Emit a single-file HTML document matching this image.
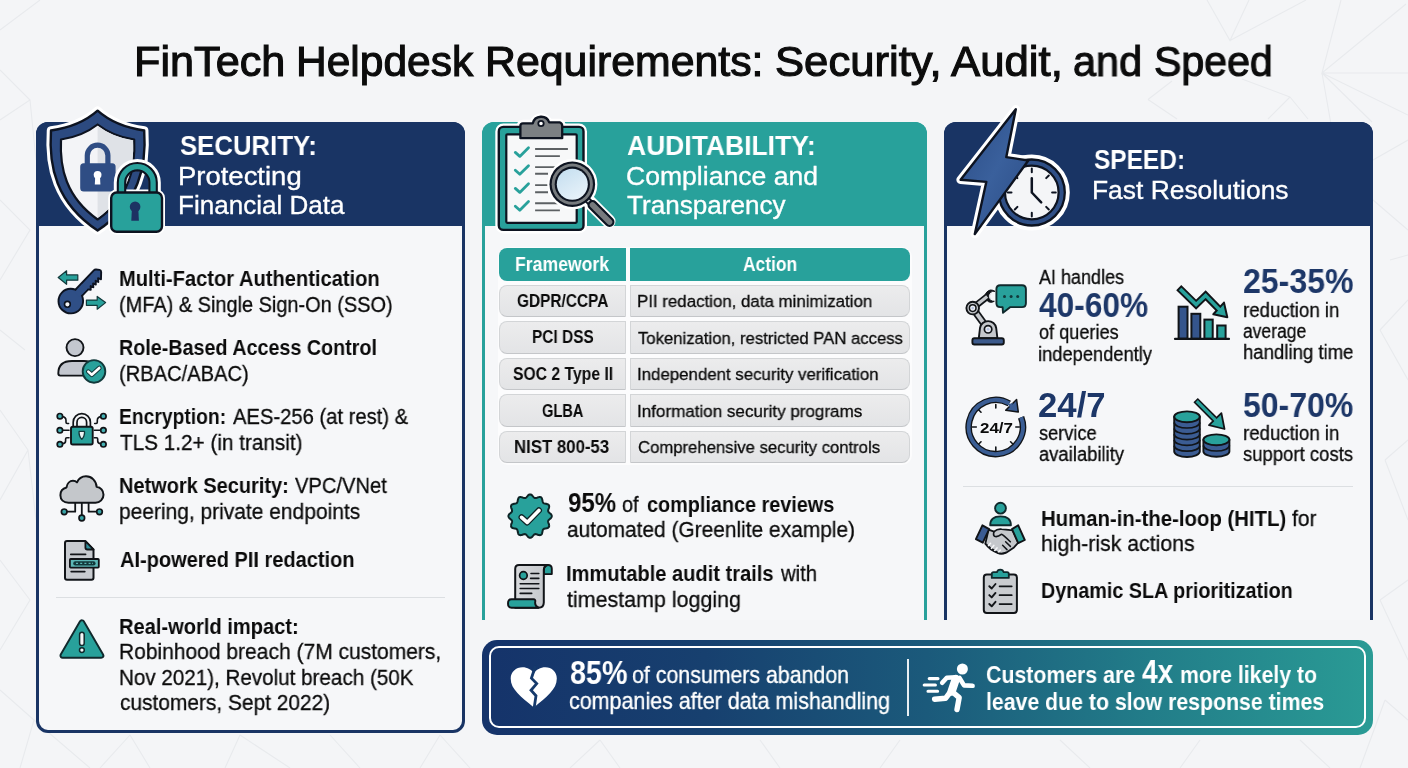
<!DOCTYPE html>
<html><head><meta charset="utf-8"><title>FinTech Helpdesk Requirements</title>
<style>
html,body{margin:0;padding:0}
body{width:1408px;height:768px;overflow:hidden;position:relative;background:#f4f5f7;font-family:"Liberation Sans",sans-serif;color:#0b0b0b}
.t{position:absolute;white-space:pre;line-height:1;transform-origin:0 0;will-change:transform}
.abs{position:absolute}
.panel{position:absolute;box-sizing:border-box;background:#f6f7f9}
.hdr{position:absolute;box-sizing:border-box}
.cell{position:absolute;box-sizing:border-box;border-radius:8px}
.th{background:#28a19b}
.td{background:linear-gradient(#ececed,#e3e4e6);border:1px solid #d3d5d7;border-bottom-color:#c4c6c9}
svg{position:absolute;overflow:visible}
</style></head><body>
<!-- background pattern -->
<svg class="abs" style="left:0;top:0" width="1408" height="768" viewBox="0 0 1408 768" fill="none" stroke="#e8eaed" stroke-width="1.100">
<path d="M1207 0L1230 40.500L1249 0M1230 40.500L1306 0M1341 0L1322 73L1406 4M1322 73H1408M1322 73L1408 115M1322 73L1332 130M1322 73L1372 122M1148 99.500L1172 81M1148 99.500L1177 119M1290 97L1242 79M1290 97L1268 119M1290 97L1308 119"/>
<path d="M1373 160L1408 140M1373 200L1408 230M1390 260L1408 255M1380 330L1408 300M1380 330L1408 380M1385 460L1408 440M1385 460L1408 520M1380 600L1408 580M1380 600L1408 660M1385 700L1408 720M1385 700L1360 768"/>
<path d="M0 410L28 450L0 500M28 450L36 520M0 560L30 600L0 650M0 690L34 720L20 768M34 720L90 768M130 735L150 768M130 735L100 768M240 735L225 768M240 735L290 768M330 735L360 768M440 735L420 768M440 735L470 768M600 740L620 768M600 740L570 768M760 740L780 768M900 740L880 768M1060 740L1090 768M1200 740L1180 768M1300 740L1330 768"/>
<path d="M0 30L40 0M0 120L30 100L0 70M30 100L36 160M0 200L30 230L0 280M0 330L25 350"/>
</svg>

<!-- SECURITY panel -->
<div class="panel" style="left:36px;top:121.5px;width:429px;height:611.5px;border:3px solid #193464;border-radius:12px"></div>
<div class="hdr" style="left:36px;top:121.5px;width:429px;height:104.5px;background:#193464;border-radius:12px 12px 0 0"></div>
<div class="abs" style="left:56px;top:597px;width:389px;height:1.300px;background:#dcdfe2"></div>

<!-- AUDIT panel -->
<div class="panel" style="left:482px;top:121.5px;width:445px;height:498px;border:3px solid #28a19b;border-bottom:none;border-radius:12px 12px 0 0"></div>
<div class="hdr" style="left:482px;top:121.5px;width:445px;height:104.5px;background:#28a19b;border-radius:12px 12px 0 0"></div>
<div class="abs" style="left:497.5px;top:246.500px;width:414px;height:218px;border-radius:10px;background:#fcfcfd"></div>
<div class="cell th" style="left:499.300px;top:248px;width:126.400px;height:32.700px;border-radius:8px 0 0 8px"></div>
<div class="cell th" style="left:629.700px;top:248px;width:280.200px;height:32.700px;border-radius:0 8px 8px 0"></div>
<div class="cell td" style="left:499.300px;top:284.5px;width:126.400px;height:32.700px;border-radius:8px 0 0 8px"></div>
<div class="cell td" style="left:629.700px;top:284.5px;width:280.200px;height:32.700px;border-radius:0 8px 8px 0"></div>
<div class="cell td" style="left:499.300px;top:321px;width:126.400px;height:32.700px;border-radius:8px 0 0 8px"></div>
<div class="cell td" style="left:629.700px;top:321px;width:280.200px;height:32.700px;border-radius:0 8px 8px 0"></div>
<div class="cell td" style="left:499.300px;top:357.5px;width:126.400px;height:32.700px;border-radius:8px 0 0 8px"></div>
<div class="cell td" style="left:629.700px;top:357.5px;width:280.200px;height:32.700px;border-radius:0 8px 8px 0"></div>
<div class="cell td" style="left:499.300px;top:394px;width:126.400px;height:32.700px;border-radius:8px 0 0 8px"></div>
<div class="cell td" style="left:629.700px;top:394px;width:280.200px;height:32.700px;border-radius:0 8px 8px 0"></div>
<div class="cell td" style="left:499.300px;top:430.5px;width:126.400px;height:32.700px;border-radius:8px 0 0 8px"></div>
<div class="cell td" style="left:629.700px;top:430.5px;width:280.200px;height:32.700px;border-radius:0 8px 8px 0"></div>

<!-- SPEED panel -->
<div class="panel" style="left:944px;top:121.5px;width:429px;height:498px;border:3px solid #193464;border-bottom:none;border-radius:12px 12px 0 0"></div>
<div class="hdr" style="left:944px;top:121.5px;width:429px;height:104.5px;background:#193464;border-radius:12px 12px 0 0"></div>
<div class="abs" style="left:963px;top:485.5px;width:390px;height:1.300px;background:#dcdfe2"></div>

<!-- BANNER -->
<div class="abs" style="left:482px;top:639.5px;width:891px;height:95px;border-radius:15px;background:linear-gradient(90deg,#15336a 0%,#17406f 25%,#1b5a7b 50%,#227d89 75%,#2a9b95 100%)"></div>
<div class="abs" style="left:489px;top:646px;width:877px;height:82px;box-sizing:border-box;border:2.5px solid #ffffff;border-radius:10px"></div>
<div class="abs" style="left:906.5px;top:659px;width:2px;height:57px;background:#e8eef2"></div>

<svg class="abs" style="left:0;top:0" width="1408" height="768" viewBox="0 0 1408 768">
<g id="shield" stroke-linejoin="round" stroke-linecap="round">
<!-- white halo -->
<path d="M97.6 110.7C86 121 69 128 51 130.5C48.5 166 56 203 97.6 230.5C139.2 203 146.700 166 144.2 130.5C126.2 128 109.2 121 97.6 110.700Z" fill="#fff" stroke="#fff" stroke-width="8.5"/>
<!-- outer shield -->
<path d="M97.6 110.7C86 121 69 128 51 130.5C48.5 166 56 203 97.6 230.5C139.2 203 146.700 166 144.2 130.5C126.2 128 109.2 121 97.6 110.700Z" fill="#2c4a80" stroke="#0d1320" stroke-width="2.4"/>
<!-- inner shield -->
<path d="M97.6 124.5C88 132 75 137.500 61 139.500C59.5 168 66 197 97.6 219.500C129.200 197 135.700 168 134.200 139.500C120.200 137.500 107.200 132 97.6 124.500Z" fill="#f3f4f7" stroke="#0d1320" stroke-width="2.2"/>
<path d="M97.6 125.8C107 133 119.6 138.3 133 140.400C134.400 168 128.200 196 97.6 218Z" fill="#dfe2e7"/>
<!-- small blue lock -->
<path d="M87.3 166V155.500A10.300 10.300 0 0 1 107.900 155.500V166" fill="none" stroke="#2f4d84" stroke-width="5.200"/>
<rect x="80.200" y="163.300" width="35.400" height="28.300" rx="3.500" fill="#2f4d84"/>
<circle cx="97.6" cy="174.800" r="3.900" fill="#fff"/>
<path d="M95.300 175H99.900L100.400 184.500H94.800Z" fill="#fff"/>
<!-- green lock -->
<g>
<path d="M113.8 198V182.500A23.5 23.5 0 0 1 160.800 182.500V198ZM125.700 198V182.500A11.600 11.600 0 0 1 148.900 182.500V198Z" fill="#fff" fill-rule="evenodd"/>
<rect x="111.200" y="192.500" width="50.800" height="39.300" rx="5.500" fill="#fff" stroke="#fff" stroke-width="6"/>
<path d="M121.500 196V182.500A15.800 15.800 0 0 1 153.100 182.500V196" fill="none" stroke="#0d1320" stroke-width="9.500"/>
<path d="M121.500 196V182.500A15.800 15.800 0 0 1 153.100 182.500V196" fill="none" stroke="#28a19b" stroke-width="5.300"/>
<rect x="111.200" y="192.500" width="50.800" height="39.300" rx="5.500" fill="#28a19b" stroke="#0d1320" stroke-width="2.400"/>
<circle cx="135.100" cy="206.700" r="5.300" fill="#1d3263"/>
<path d="M132 207H138.200L138.900 220.800H131.300Z" fill="#1d3263"/>
</g>
</g>
<g id="clipboard" stroke-linejoin="round" stroke-linecap="round">
<!-- halo -->
<rect x="498.800" y="126.900" width="84.700" height="103" rx="4.500" fill="#fff" stroke="#fff" stroke-width="7"/>
<path d="M520.400 138.200V125.800Q520.400 123.300 523 123.300H532.800A8.600 8.600 0 0 1 549.200 122.300H559.600Q562.200 123.300 562.200 125.800V138.200Z" fill="#fff" stroke="#fff" stroke-width="7"/>
<!-- board -->
<rect x="498.800" y="126.900" width="84.700" height="103" rx="4.500" fill="#28a19b" stroke="#0d1320" stroke-width="2.400"/>
<rect x="506.300" y="134.300" width="70.400" height="88.500" rx="1" fill="#f7f8f9" stroke="#0d1320" stroke-width="2.200"/>
<!-- clip -->
<path d="M520.400 138.200V125.800Q520.400 123.300 523 123.300H532.800A8.600 8.600 0 0 1 549.200 122.300H559.600Q562.200 123.300 562.200 125.800V138.200Z" fill="#7c8083" stroke="#0d1320" stroke-width="2.300"/>
<circle cx="541" cy="123.500" r="2.700" fill="#fff" stroke="#0d1320" stroke-width="1.800"/>
<!-- checks -->
<g fill="none" stroke="#28a19b" stroke-width="2.800">
<path d="M515.300 152.400L519.800 156.400L528.500 147.800"/>
<path d="M515.300 170.300L519.800 174.300L528.500 165.700"/>
<path d="M515.300 188.400L519.800 192.400L528.500 183.800"/>
<path d="M515.300 206.200L519.800 210.200L528.500 201.600"/>
</g>
<g fill="none" stroke="#5c6063" stroke-width="1.900" stroke-linecap="butt">
<path d="M535.100 149H567.900M535.100 156.100H559.900"/>
<path d="M535.100 167.100H555M535.100 173.800H548"/>
<path d="M535.100 185.100H548M535.100 192.200H548"/>
<path d="M535.100 203.300H560M535.100 210.400H559.900"/>
</g>
<!-- magnifier halo -->
<circle cx="572.300" cy="184.200" r="23" fill="#fff" stroke="#fff" stroke-width="4.200"/>
<path d="M589 201.500L608.800 221.300" fill="none" stroke="#fff" stroke-width="13.500"/>
<!-- handle -->
<path d="M586 198.500L592 204.500" fill="none" stroke="#0d1320" stroke-width="6.500" stroke-linecap="butt"/>
<path d="M586 198.500L592 204.500" fill="none" stroke="#c9ccce" stroke-width="2.800" stroke-linecap="butt"/>
<path d="M592.500 205L609.500 222" fill="none" stroke="#0d1320" stroke-width="10"/>
<path d="M592.500 205L609.500 222" fill="none" stroke="#777b7e" stroke-width="5.600"/>
<!-- lens -->
<circle cx="572.300" cy="184.200" r="22.800" fill="#0d1320"/>
<circle cx="572.300" cy="184.200" r="20.600" fill="#777b7e"/>
<circle cx="572.300" cy="184.200" r="17.600" fill="#0d1320"/>
<circle cx="572.300" cy="184.200" r="15.500" fill="url(#lensg)"/>
<defs><linearGradient id="lensg" x1="0.200" y1="0" x2="0.800" y2="1"><stop offset="0" stop-color="#c6dff0"/><stop offset="1" stop-color="#e9f3fa"/></linearGradient></defs>
</g>
<g id="bolt" stroke-linejoin="round" stroke-linecap="round">
<defs><linearGradient id="boltg" x1="0" y1="0" x2="1" y2="1"><stop offset="0" stop-color="#2b4c85"/><stop offset="0.5" stop-color="#3a609c"/><stop offset="1" stop-color="#2b4c85"/></linearGradient></defs>
<circle cx="1031.8" cy="192.5" r="34" fill="#fff" stroke="#fff" stroke-width="8"/>
<path d="M1015.8 109.300L1006.300 157.100L1028.300 160.500L974.800 234.100L986.300 181.900L960.600 179.800Z" fill="#fff" stroke="#fff" stroke-width="8.500"/>
<circle cx="1031.8" cy="192.5" r="33" fill="#2f4f86" stroke="#0d1320" stroke-width="2.300"/>
<circle cx="1031.8" cy="192.5" r="26.800" fill="#f4f5f7" stroke="#0d1320" stroke-width="2.200"/>
<path d="M1031.8 172.2L1031.8 168.5M1046.2 178.1L1048.8 175.5M1052.1 192.5L1055.8 192.5M1046.2 206.9L1048.8 209.5M1031.8 212.8L1031.8 216.5M1017.4 206.9L1014.8 209.5M1011.5 192.5L1007.8 192.5M1017.4 178.1L1014.8 175.5" fill="none" stroke="#0d1320" stroke-width="2"/>
<path d="M1031.8 192.5V178.300M1031.8 192.5L1041.200 202.300" fill="none" stroke="#0d1320" stroke-width="2.500"/>
<path d="M1015.8 109.300L1006.300 157.100L1028.300 160.500L974.800 234.100L986.300 181.900L960.600 179.800Z" fill="url(#boltg)" stroke="#0d1320" stroke-width="2.400"/>
</g>
<g id="key" stroke-linejoin="round" stroke-linecap="round">
<g transform="translate(70.800 301.100) rotate(-46.500)">
<path d="M9 -4.500L38.200 -4.500Q39.600 -4.500 40.400 -3.400L42.400 -0.600Q43.300 0.800 42 2L36.600 6.900L35.400 4L32.800 6.800L31.800 4L29.200 6.800L28.200 4L25.600 6.800L24.600 4L22 6.600L20.500 4.500L9 4.500Z" fill="#2f4f86" stroke="#0d1320" stroke-width="1.900"/>
<circle cx="0" cy="0" r="12.300" fill="#2f4f86" stroke="#0d1320" stroke-width="1.900"/>
<path d="M9 -3.500L20 -3.500L20 3.500L9 3.500Z" fill="#2f4f86"/>
</g>
<circle cx="67.400" cy="304.300" r="2.900" fill="#f4f5f7" stroke="#0d1320" stroke-width="1.600"/>
<path d="M58.200 277.500L66.600 270.800V274.900H77.800V280.200H66.600V284.300Z" fill="#28a19b" stroke="#12393b" stroke-width="1.200"/>
<path d="M105.600 302.600L97.200 296.400V300.100H86.400V305.300H97.200V309.200Z" fill="#28a19b" stroke="#12393b" stroke-width="1.200"/>
</g>
<g id="user" stroke-linejoin="round" stroke-linecap="round">
<circle cx="75" cy="347.600" r="8.500" fill="#c3c7cf" stroke="#111418" stroke-width="1.900"/>
<path d="M58.300 373.500Q58.300 361 72 361H84Q96 361 96 373.500Q96 375.600 94 375.600H60.300Q58.300 375.600 58.300 373.500Z" fill="#c3c7cf" stroke="#111418" stroke-width="1.900"/>
<circle cx="94" cy="371.400" r="11.300" fill="#28a19b" stroke="#12393b" stroke-width="1.900"/>
<path d="M88.300 371.600L91.800 374.800L99.300 368" fill="none" stroke="#12393b" stroke-width="4.600"/>
<path d="M88.300 371.600L91.800 374.800L99.300 368" fill="none" stroke="#ffffff" stroke-width="2.600"/>
</g>
<g id="enc" stroke-linejoin="round" stroke-linecap="round">
<path d="M73.200 428V422.200A8.600 8.600 0 0 1 90.400 422.200V428H86.600V422.200A4.800 4.800 0 0 0 77 422.200V428Z" fill="#f4f5f7" stroke="#111418" stroke-width="1.700"/>
<rect x="71" y="426.700" width="21.700" height="17.800" rx="1.800" fill="#28a19b" stroke="#111418" stroke-width="1.900"/>
<path d="M79.100 431.300H84.500Q85 436 81.800 439.400Q78.600 436 79.100 431.300Z" fill="#eef3f4" stroke="#12393b" stroke-width="1.300"/>
<g fill="none" stroke="#111418" stroke-width="1.600">
<path d="M62.400 416.600Q66 417 66 420.500V422.300Q66 423.500 67.200 423.500H68.600"/>
<path d="M62.400 430.300H69"/>
<path d="M62.400 443.800Q65.600 443.400 65.600 441V439Q65.600 437.700 66.800 437.700H69"/>
<path d="M100.900 416.600Q97.300 417 97.300 420.500V422.300Q97.300 423.500 96.100 423.500H94.700"/>
<path d="M100.900 430.300H94.300"/>
<path d="M100.900 443.800Q97.700 443.400 97.700 441V439Q97.700 437.700 96.500 437.700H94.300"/>
</g>
<g fill="#44b1b4" stroke="#111418" stroke-width="1.700">
<circle cx="59.900" cy="416.200" r="2.700"/><circle cx="59.900" cy="430.300" r="2.700"/><circle cx="59.900" cy="444.300" r="2.700"/>
<circle cx="103.400" cy="416.200" r="2.700"/><circle cx="103.400" cy="430.300" r="2.700"/><circle cx="103.400" cy="444.300" r="2.700"/>
</g>
</g>
<g id="cloud" stroke-linejoin="round" stroke-linecap="round">
<g fill="none" stroke="#111418" stroke-width="1.800">
<path d="M75.200 502V511.700H66.500M81.800 502V515.500M88.600 502V511.700H97"/>
</g>
<path d="M68.500 502.700C63.500 502.700 60.400 499.500 60.400 495.300C60.400 491.300 63 488.300 66.500 487.500C67 483.500 69.800 480.800 73 480.800C74.600 480.800 76 481.400 77 482.400C78.600 478.700 82 476.300 86 476.300C91.700 476.300 96.300 480.900 96.600 486.800C100.600 487.300 103.500 490.600 103.500 494.700C103.500 499.200 100 502.700 95.500 502.700Z" fill="#c4c7cb" stroke="#111418" stroke-width="2"/>
<g fill="#38a3a6" stroke="#111418" stroke-width="1.700">
<circle cx="64.200" cy="511.800" r="2.800"/><circle cx="81.800" cy="518" r="2.800"/><circle cx="99.500" cy="511.800" r="2.800"/>
</g>
</g>
<g id="doc" stroke-linejoin="round" stroke-linecap="round">
<path d="M67 541.100H85.400L93.500 549.500V577.700Q93.500 579.700 91.500 579.700H67Q65 579.700 65 577.700V543.100Q65 541.100 67 541.100Z" fill="#c8cbd0" stroke="#111418" stroke-width="2"/>
<path d="M85.400 541.100V547.500Q85.400 549.500 87.400 549.500H93.500Z" fill="#2f8d99" stroke="#111418" stroke-width="1.800"/>
<path d="M70.800 554.300H85.600M71.200 571.600H84.800" fill="none" stroke="#111418" stroke-width="1.700"/>
<rect x="69.900" y="559" width="28.900" height="8.600" rx="0.800" fill="#5cb7b6" stroke="#111418" stroke-width="1.800"/>
<rect x="73.200" y="561.300" width="22.400" height="4.200" rx="2.100" fill="#12393b"/>
<path d="M76 563.400H78M80.200 563.400H82.200M84.400 563.400H86.400M88.600 563.400H90.600M92.200 563.400H93" fill="none" stroke="#5cb7b6" stroke-width="1.200" stroke-linecap="butt"/>
</g>
<g id="warn" stroke-linejoin="round" stroke-linecap="round">
<path d="M81.900 622.400L101.200 655.600H62.600Z" fill="#28a19b" stroke="#10292c" stroke-width="6.200"/>
<path d="M81.900 622.400L101.200 655.600H62.600Z" fill="#28a19b" stroke="#28a19b" stroke-width="2.400"/>
<rect x="79.600" y="632.300" width="4.600" height="13.200" rx="2.300" fill="#f6f8f9" stroke="#10292c" stroke-width="1.500"/>
<circle cx="81.900" cy="650.100" r="2.400" fill="#f6f8f9" stroke="#10292c" stroke-width="1.500"/>
</g>
<g id="badge" stroke-linejoin="round" stroke-linecap="round">
<path d="M530.1 494.4L530.7 494.5L531.2 494.7L531.8 495.1L532.3 495.5L532.7 496.1L533.2 496.6L533.6 497.1L534.0 497.5L534.5 497.8L534.9 498.0L535.4 498.1L536.0 498.0L536.5 497.9L537.2 497.7L537.8 497.4L538.5 497.2L539.2 497.1L539.8 497.0L540.4 497.1L541.0 497.3L541.4 497.7L541.8 498.1L542.0 498.7L542.2 499.4L542.4 500.1L542.5 500.8L542.6 501.4L542.8 502.0L543.0 502.5L543.3 502.9L543.7 503.2L544.2 503.4L544.8 503.6L545.4 503.7L546.1 503.8L546.8 504.0L547.5 504.2L548.1 504.4L548.5 504.8L548.9 505.2L549.1 505.8L549.2 506.4L549.1 507.0L549.0 507.7L548.8 508.4L548.5 509.0L548.3 509.7L548.2 510.2L548.1 510.8L548.2 511.3L548.4 511.7L548.7 512.2L549.1 512.6L549.6 513.0L550.1 513.5L550.7 513.9L551.1 514.4L551.5 515.0L551.7 515.5L551.8 516.1L551.7 516.7L551.5 517.2L551.1 517.8L550.7 518.3L550.1 518.7L549.6 519.2L549.1 519.6L548.7 520.0L548.4 520.5L548.2 520.9L548.1 521.4L548.2 522.0L548.3 522.5L548.5 523.2L548.8 523.8L549.0 524.5L549.1 525.2L549.2 525.8L549.1 526.4L548.9 527.0L548.5 527.4L548.1 527.8L547.5 528.0L546.8 528.2L546.1 528.4L545.4 528.5L544.8 528.6L544.2 528.8L543.7 529.0L543.3 529.3L543.0 529.7L542.8 530.2L542.6 530.8L542.5 531.4L542.4 532.1L542.2 532.8L542.0 533.5L541.8 534.1L541.4 534.5L541.0 534.9L540.4 535.1L539.8 535.2L539.2 535.1L538.5 535.0L537.8 534.8L537.2 534.5L536.5 534.3L536.0 534.2L535.4 534.1L534.9 534.2L534.5 534.4L534.0 534.7L533.6 535.1L533.2 535.6L532.7 536.1L532.3 536.7L531.8 537.1L531.2 537.5L530.7 537.7L530.1 537.8L529.5 537.7L529.0 537.5L528.4 537.1L527.9 536.7L527.5 536.1L527.0 535.6L526.6 535.1L526.2 534.7L525.7 534.4L525.3 534.2L524.8 534.1L524.2 534.2L523.7 534.3L523.0 534.5L522.4 534.8L521.7 535.0L521.0 535.1L520.4 535.2L519.8 535.1L519.2 534.9L518.8 534.5L518.4 534.1L518.2 533.5L518.0 532.8L517.8 532.1L517.7 531.4L517.6 530.8L517.4 530.2L517.2 529.7L516.9 529.3L516.5 529.0L516.0 528.8L515.4 528.6L514.8 528.5L514.1 528.4L513.4 528.2L512.7 528.0L512.1 527.8L511.7 527.4L511.3 527.0L511.1 526.4L511.0 525.8L511.1 525.2L511.2 524.5L511.4 523.8L511.7 523.2L511.9 522.5L512.0 522.0L512.1 521.4L512.0 520.9L511.8 520.5L511.5 520.0L511.1 519.6L510.6 519.2L510.1 518.7L509.5 518.3L509.1 517.8L508.7 517.2L508.5 516.7L508.4 516.1L508.5 515.5L508.7 515.0L509.1 514.4L509.5 513.9L510.1 513.5L510.6 513.0L511.1 512.6L511.5 512.2L511.8 511.7L512.0 511.3L512.1 510.8L512.0 510.2L511.9 509.7L511.7 509.0L511.4 508.4L511.2 507.7L511.1 507.0L511.0 506.4L511.1 505.8L511.3 505.2L511.7 504.8L512.1 504.4L512.7 504.2L513.4 504.0L514.1 503.8L514.8 503.7L515.4 503.6L516.0 503.4L516.5 503.2L516.9 502.9L517.2 502.5L517.4 502.0L517.6 501.4L517.7 500.8L517.8 500.1L518.0 499.4L518.2 498.7L518.4 498.1L518.8 497.7L519.2 497.3L519.8 497.1L520.4 497.0L521.0 497.1L521.7 497.2L522.4 497.4L523.0 497.7L523.7 497.9L524.2 498.0L524.8 498.1L525.3 498.0L525.7 497.8L526.2 497.5L526.6 497.1L527.0 496.6L527.5 496.1L527.9 495.5L528.4 495.1L529.0 494.7L529.5 494.5Z" fill="#28a19b" stroke="#0e2426" stroke-width="2"/>
<path d="M521.600 517.300L527.200 522.400L538.900 510.400" fill="none" stroke="#0e2426" stroke-width="6.200"/>
<path d="M521.600 517.300L527.200 522.400L538.900 510.400" fill="none" stroke="#fff" stroke-width="3.600"/>
</g>
<g id="scroll" stroke-linejoin="round" stroke-linecap="round">
<defs><linearGradient id="scrg" x1="0" y1="0" x2="1" y2="0"><stop offset="0" stop-color="#d8dadd"/><stop offset="1" stop-color="#c4c7cb"/></linearGradient></defs>
<!-- top flap -->
<path d="M540 565H548Q551.800 565 551.800 568.800V574.100H543.800V570Q543.800 566 547.500 565Z" fill="#28a19b" stroke="#111418" stroke-width="1.900"/>
<!-- paper -->
<path d="M519 565H547.500Q543.800 566 543.800 570V602.500Q543.800 607.700 538.500 607.700H515.200V569Q515.200 565 519 565Z" fill="url(#scrg)" stroke="#111418" stroke-width="2"/>
<!-- bottom roll -->
<path d="M511.500 599.300H533.500Q535.800 599.300 535.200 602Q534.600 606 538.500 607.700H511.500Q508 607.700 508 603.500Q508 599.300 511.500 599.300Z" fill="#28a19b" stroke="#111418" stroke-width="1.900"/>
<circle cx="523.400" cy="575.500" r="3.800" fill="#28a19b" stroke="#111418" stroke-width="1.700"/>
<path d="M531 573.500H538.800M530.600 578.400H538.800M520.200 583.700H538.800M520.200 588.500H538.800M520.200 593.400H531.700" fill="none" stroke="#111418" stroke-width="1.600"/>
</g>
<g id="robot" stroke-linejoin="round" stroke-linecap="round">
<!-- gripper -->
<path d="M994.600 291.200A6 6 0 1 0 994.300 301.300A5.100 5.100 0 1 1 994.600 291.200Z" fill="#111418" stroke="#111418" stroke-width="1"/>
<path d="M990.800 293.600A3.600 3.600 0 0 0 990.800 299" fill="none" stroke="#d9dbdf" stroke-width="1.100"/>
<!-- upper arm -->
<path d="M972.700 308.100L987.200 296.600" fill="none" stroke="#111418" stroke-width="6.600" stroke-linecap="butt"/>
<path d="M972.700 308.100L987.200 296.600" fill="none" stroke="#c5c8cc" stroke-width="3.200" stroke-linecap="butt"/>
<!-- lower arm -->
<path d="M972.700 308.100L988.100 329.300" fill="none" stroke="#111418" stroke-width="7.400" stroke-linecap="butt"/>
<path d="M972.700 308.100L988.100 329.300" fill="none" stroke="#c5c8cc" stroke-width="3.900" stroke-linecap="butt"/>
<!-- pedestal -->
<path d="M978.800 338.200L980 328A8.200 8.200 0 0 1 996.200 328L997.400 338.200Z" fill="#c5c8cc" stroke="#111418" stroke-width="1.900"/>
<rect x="972.400" y="338.200" width="31.400" height="6.300" rx="2" fill="#3c5a8c" stroke="#111418" stroke-width="1.900"/>
<circle cx="988.100" cy="329.300" r="3.700" fill="#e9ebf2" stroke="#111418" stroke-width="1.700"/>
<circle cx="988.100" cy="329.300" r="1.400" fill="#b5c3e2"/>
<!-- elbow -->
<circle cx="972.700" cy="308.100" r="6.300" fill="#c5c8cc" stroke="#111418" stroke-width="1.900"/>
<circle cx="972.700" cy="308.100" r="3.300" fill="#eef0f4" stroke="#111418" stroke-width="1.500"/>
<circle cx="972.700" cy="308.100" r="1.300" fill="#b5c3e2"/>
<!-- bubble -->
<path d="M1000.300 285.200H1022Q1025.900 285.200 1025.900 289.100V303.200Q1025.900 307.100 1022 307.100H1010.400L1003 312.800L1002.600 307.100H1000.300Q996.400 307.100 996.400 303.200V289.100Q996.400 285.200 1000.300 285.200Z" fill="#28a19b" stroke="#10292c" stroke-width="1.900"/>
<circle cx="1004.500" cy="296.400" r="1.500" fill="#12393b"/><circle cx="1011.100" cy="296.400" r="1.500" fill="#12393b"/><circle cx="1017.700" cy="296.400" r="1.500" fill="#12393b"/>
</g>
<g id="chart" stroke-linejoin="miter" stroke-linecap="butt">
<g stroke="#111418" stroke-width="2">
<rect x="1178.600" y="306.700" width="8.900" height="32" fill="#35558c"/>
<rect x="1191.400" y="313.800" width="8.900" height="25" fill="#35558c"/>
<rect x="1204.400" y="319.600" width="8.300" height="19.200" fill="#28a19b"/>
<rect x="1217.200" y="325.500" width="8.400" height="13.300" fill="#28a19b"/>
</g>
<path d="M1175 338.900H1229" stroke="#111418" stroke-width="2.200" stroke-linecap="round"/>
<path d="M1181.300 290.100L1196.100 304.600L1205.600 295.400L1219.500 309.600" fill="none" stroke="#111418" stroke-width="7.200" stroke-linejoin="miter" stroke-linecap="square"/>
<path d="M1227.300 317.300L1224 302.600L1213.300 314.200Z" fill="#28a19b" stroke="#111418" stroke-width="2" stroke-linejoin="round"/>
<path d="M1181.300 290.100L1196.100 304.600L1205.600 295.400L1219.500 309.600" fill="none" stroke="#28a19b" stroke-width="3.500" stroke-linejoin="miter" stroke-linecap="square"/>
</g>
<g id="c247" stroke-linejoin="round">
<path d="M1021.1 417.3A27.1 27.1 0 1 1 1009.3 403.5" fill="none" stroke="#111418" stroke-width="6.600" stroke-linecap="butt"/>
<path d="M1016.600 399.500L1018.300 412L1005.700 410.300Z" fill="#3a5d94" stroke="#111418" stroke-width="1.500"/>
<path d="M1021.1 417.3A27.1 27.1 0 1 1 1009.3 403.5" fill="none" stroke="#3a5d94" stroke-width="3.900" stroke-linecap="butt"/>
<path d="M1008.200 404.200L1011 409.500L1013 403Z" fill="#3a5d94"/>
<path d="M995.8 408.0L995.8 404.5M995.8 447.0L995.8 450.6M976.3 427.0L972.3 427.0M1015.8 427.0L1019.4 427.0M981.0 412.2L978.8 410.0M981.0 441.8L978.8 444.0M1010.6 441.8L1012.8 444.0" fill="none" stroke="#111418" stroke-width="1.600" stroke-linecap="round"/>
</g>
<g id="coins" stroke-linejoin="round">
<path d="M1174.2 416.8V451.6A12.8 5.4 0 0 0 1199.8 451.6V416.8Z" fill="#3b5c93" stroke="#111418" stroke-width="1.900"/>
<path d="M1174.2 422.6A12.8 5.4 0 0 0 1199.8 422.6" fill="none" stroke="#111418" stroke-width="1.700"/>
<path d="M1174.2 428.4A12.8 5.4 0 0 0 1199.8 428.4" fill="none" stroke="#111418" stroke-width="1.700"/>
<path d="M1174.2 434.2A12.8 5.4 0 0 0 1199.8 434.2" fill="none" stroke="#111418" stroke-width="1.700"/>
<path d="M1174.2 440.0A12.8 5.4 0 0 0 1199.8 440.0" fill="none" stroke="#111418" stroke-width="1.700"/>
<path d="M1174.2 445.8A12.8 5.4 0 0 0 1199.8 445.8" fill="none" stroke="#111418" stroke-width="1.700"/>
<ellipse cx="1187" cy="416.8" rx="12.8" ry="5.4" fill="#28a19b" stroke="#111418" stroke-width="1.900"/>
<path d="M1203.4 439.8V451.40000000000003A13 5.4 0 0 0 1229.4 451.40000000000003V439.8Z" fill="#3b5c93" stroke="#111418" stroke-width="1.900"/>
<path d="M1203.4 445.6A13 5.4 0 0 0 1229.4 445.6" fill="none" stroke="#111418" stroke-width="1.700"/>
<ellipse cx="1216.4" cy="439.8" rx="13" ry="5.4" fill="#28a19b" stroke="#111418" stroke-width="1.900"/>
<path d="M1195.600 400.100L1214.500 419" fill="none" stroke="#111418" stroke-width="6.200" stroke-linecap="butt"/>
<path d="M1224.500 429L1221.400 413.200L1209 425.100Z" fill="#28a19b" stroke="#111418" stroke-width="1.800"/>
<path d="M1196.700 401.200L1216 420.500" fill="none" stroke="#28a19b" stroke-width="3.100" stroke-linecap="butt"/>
</g>
<g id="hands" stroke-linejoin="round" stroke-linecap="round">
<circle cx="1000.500" cy="508.200" r="5.400" fill="#28a19b" stroke="#10292c" stroke-width="1.900"/>
<path d="M990.200 525.300Q990.200 516.400 1000.500 516.400Q1010.900 516.400 1010.900 525.300Z" fill="#28a19b" stroke="#10292c" stroke-width="1.900"/>
<!-- hands -->
<path d="M988.600 529.600L994 531.600Q997.500 528.600 1001.500 529.200L1012.600 530.300L1018.300 542.600L1014 547.400L1006.500 552.400Q1002 554.600 998 552.800L991 548.600L985.300 543.800Z" fill="#c5c8cc" stroke="#111418" stroke-width="1.800"/>
<path d="M994 531.600Q992.800 535.400 994.500 536.300Q997.500 537.400 1001.300 534.300Q1003 534.600 1010.300 541.800" fill="none" stroke="#111418" stroke-width="1.600"/>
<path d="M1005.600 541.700L1010.400 546.400M1002.600 545.200L1007 549.600" fill="none" stroke="#111418" stroke-width="1.500"/>
<path d="M988.300 545.800L990.500 543.300M991.300 548.500L993.800 545.500M994.600 550.800L997 548M998.300 552.400L1000.200 550.200" fill="none" stroke="#f4f5f7" stroke-width="1.700"/>
<path d="M985.600 544Q989 550 998 553.200Q1002 554.600 1006 552.600" fill="none" stroke="#111418" stroke-width="1.500"/>
<!-- cuffs -->
<path d="M982.400 525.300L989.200 529.100L982.800 542.700L975.900 539.200Z" fill="#3b5c93" stroke="#111418" stroke-width="1.900"/>
<path d="M1018.200 525.300L1024.800 540L1018.200 543.100L1012 529.100Z" fill="#28a19b" stroke="#111418" stroke-width="1.900"/>
</g>
<g id="checklist" stroke-linejoin="round" stroke-linecap="round">
<rect x="983.800" y="574.500" width="33.100" height="38.400" rx="3" fill="#c9ccd0" stroke="#111418" stroke-width="2"/>
<path d="M991.800 577.900V574Q991.800 572.200 993.600 572.200H996.900A3.500 3.500 0 0 1 1003.700 572.200H1007Q1008.800 572.200 1008.800 574V577.900Z" fill="#28a19b" stroke="#10292c" stroke-width="1.800"/>
<g fill="none" stroke="#111418" stroke-width="1.900">
<path d="M989.300 586.200L991.700 588.500L995.500 584"/>
<path d="M989.300 595.100L991.700 597.400L995.500 592.900"/>
<path d="M989.300 604L991.700 606.300L995.500 601.800"/>
<path d="M999.600 586.300H1011.700M999.600 595.200H1011.700M999.600 604.100H1011.700" stroke-width="1.800"/>
</g>
</g>
<g id="heart" stroke-linejoin="miter">
<path d="M533.900 707.500C521 696.500 510.700 689.500 510.700 678.500C510.700 672 516 667.300 522.500 667.300C527.300 667.300 531.600 669.600 533.900 673.500C536.200 669.600 540.500 667.300 545.300 667.300C551.800 667.300 556.800 672 556.800 678.500C556.800 689.500 546.800 696.500 533.900 707.500Z" fill="#ffffff"/>
<path d="M535.500 666L531.400 678.200L536.700 683.600L531 690.300L536 695.800L534 709" fill="none" stroke="#163a6c" stroke-width="2.800"/>
</g>
<g id="runner" fill="none" stroke="#ffffff" stroke-linejoin="round" stroke-linecap="round">
<circle cx="962.400" cy="669" r="5.500" fill="#ffffff" stroke="none"/>
<path d="M955.800 679L951.600 691.500" stroke-width="8.400"/>
<path d="M956 677.200L946.800 677.800L942.200 682.800" stroke-width="4.600"/>
<path d="M959.500 678L964 685.400L972.600 685.800" stroke-width="4.600"/>
<path d="M952 691.500L959.200 697.600L957 709.600" stroke-width="5.400"/>
<path d="M950 692.500L945.500 698.300L934.600 699.200" stroke-width="5.400"/>
<path d="M929.200 678.600H938M924.200 685H935.400M928 691.200H937.600" stroke-width="3.100"/>
</g>
</svg>
<span class="t" style="left:133.9px;top:41.0px;font-size:42px;color:#0c0c0c;-webkit-text-stroke:1.1px #0c0c0c;transform:scaleX(1.0296)">FinTech</span>
<span class="t" style="left:295.9px;top:41.0px;font-size:42px;color:#0c0c0c;-webkit-text-stroke:1.1px #0c0c0c;transform:scaleX(1.0116)">Helpdesk</span>
<span class="t" style="left:485.4px;top:41.0px;font-size:42px;color:#0c0c0c;-webkit-text-stroke:1.1px #0c0c0c;transform:scaleX(1.0197)">Requirements:</span>
<span class="t" style="left:775.0px;top:41.0px;font-size:42px;color:#0c0c0c;-webkit-text-stroke:1.1px #0c0c0c;transform:scaleX(1.0392)">Security,</span>
<span class="t" style="left:951.0px;top:41.0px;font-size:42px;color:#0c0c0c;-webkit-text-stroke:1.1px #0c0c0c;transform:scaleX(1.0412)">Audit,</span>
<span class="t" style="left:1072.7px;top:41.0px;font-size:42px;color:#0c0c0c;-webkit-text-stroke:1.1px #0c0c0c;transform:scaleX(0.9863)">and</span>
<span class="t" style="left:1153.6px;top:41.0px;font-size:42px;color:#0c0c0c;-webkit-text-stroke:1.1px #0c0c0c;transform:scaleX(0.9781)">Speed</span>
<span class="t" style="left:179.8px;top:131.2px;font-size:28.3px;font-weight:700;color:#ffffff;transform:scaleX(0.9096)">SECURITY:</span>
<span class="t" style="left:177.9px;top:162.6px;font-size:26px;color:#ffffff;-webkit-text-stroke:0.35px #fff;transform:scaleX(1.0563)">Protecting</span>
<span class="t" style="left:178.0px;top:191.7px;font-size:26px;color:#ffffff;-webkit-text-stroke:0.35px #fff;transform:scaleX(1.0016)">Financial Data</span>
<span class="t" style="left:627.0px;top:131.2px;font-size:28.3px;font-weight:700;color:#ffffff;transform:scaleX(0.9358)">AUDITABILITY:</span>
<span class="t" style="left:626.0px;top:162.6px;font-size:26px;color:#ffffff;-webkit-text-stroke:0.35px #fff;transform:scaleX(1.0219)">Compliance and</span>
<span class="t" style="left:627.0px;top:191.7px;font-size:26px;color:#ffffff;-webkit-text-stroke:0.35px #fff;transform:scaleX(1.0032)">Transparency</span>
<span class="t" style="left:1094.0px;top:145.4px;font-size:28.3px;font-weight:700;color:#ffffff;transform:scaleX(0.8647)">SPEED:</span>
<span class="t" style="left:1092.0px;top:176.6px;font-size:26px;color:#ffffff;-webkit-text-stroke:0.35px #fff;transform:scaleX(1.0149)">Fast Resolutions</span>
<span class="t" style="left:119.1px;top:268.0px;font-size:22.5px;font-weight:700;transform:scaleX(0.8936)">Multi-Factor Authentication</span>
<span class="t" style="left:119.1px;top:293.9px;font-size:22.5px;-webkit-text-stroke:0.3px #0b0b0b;transform:scaleX(0.8863)">(MFA) &amp; Single Sign-On (SSO)</span>
<span class="t" style="left:119.1px;top:337.3px;font-size:22.5px;font-weight:700;transform:scaleX(0.8766)">Role-Based Access Control</span>
<span class="t" style="left:119.1px;top:363.3px;font-size:22.5px;-webkit-text-stroke:0.3px #0b0b0b;transform:scaleX(0.8946)">(RBAC/ABAC)</span>
<span class="t" style="left:119.1px;top:405.9px;font-size:22.5px;font-weight:700;transform:scaleX(0.8571)">Encryption:</span>
<span class="t" style="left:232.8px;top:405.9px;font-size:22.5px;-webkit-text-stroke:0.3px #0b0b0b;transform:scaleX(0.8982)">AES-256 (at rest) &amp;</span>
<span class="t" style="left:120.0px;top:431.6px;font-size:22.5px;-webkit-text-stroke:0.3px #0b0b0b;transform:scaleX(0.9205)">TLS 1.2+ (in transit)</span>
<span class="t" style="left:119.1px;top:475.3px;font-size:22.5px;font-weight:700;transform:scaleX(0.8877)">Network Security:</span>
<span class="t" style="left:294.5px;top:475.3px;font-size:22.5px;-webkit-text-stroke:0.3px #0b0b0b;transform:scaleX(0.8956)">VPC/VNet</span>
<span class="t" style="left:119.1px;top:500.9px;font-size:22.5px;-webkit-text-stroke:0.3px #0b0b0b;transform:scaleX(0.9314)">peering, private endpoints</span>
<span class="t" style="left:120.0px;top:549.0px;font-size:22.5px;font-weight:700;transform:scaleX(0.8892)">AI-powered PII redaction</span>
<span class="t" style="left:119.1px;top:615.5px;font-size:22.5px;font-weight:700;transform:scaleX(0.8929)">Real-world impact:</span>
<span class="t" style="left:119.1px;top:641.1px;font-size:22.5px;-webkit-text-stroke:0.3px #0b0b0b;transform:scaleX(0.9332)">Robinhood breach (7M customers,</span>
<span class="t" style="left:119.1px;top:666.7px;font-size:22.5px;-webkit-text-stroke:0.3px #0b0b0b;transform:scaleX(0.9160)">Nov 2021), Revolut breach (50K</span>
<span class="t" style="left:120.0px;top:692.3px;font-size:22.5px;-webkit-text-stroke:0.3px #0b0b0b;transform:scaleX(0.9289)">customers, Sept 2022)</span>
<span class="t" style="left:515.0px;top:254.0px;font-size:20.5px;font-weight:700;color:#ffffff;transform:scaleX(0.8598)">Framework</span>
<span class="t" style="left:742.8px;top:254.0px;font-size:20.5px;font-weight:700;color:#ffffff;transform:scaleX(0.8490)">Action</span>
<span class="t" style="left:516.8px;top:293.1px;font-size:17.7px;font-weight:700;transform:scaleX(0.8720)">GDPR/CCPA</span>
<span class="t" style="left:636.8px;top:293.2px;font-size:17.2px;-webkit-text-stroke:0.3px #0b0b0b;transform:scaleX(0.9810)">PII redaction, data minimization</span>
<span class="t" style="left:531.5px;top:329.4px;font-size:17.7px;font-weight:700;transform:scaleX(0.8718)">PCI DSS</span>
<span class="t" style="left:637.8px;top:329.5px;font-size:17.2px;-webkit-text-stroke:0.3px #0b0b0b;transform:scaleX(0.9707)">Tokenization, restricted PAN access</span>
<span class="t" style="left:512.8px;top:366.1px;font-size:17.7px;font-weight:700;transform:scaleX(0.8883)">SOC 2 Type II</span>
<span class="t" style="left:636.8px;top:366.2px;font-size:17.2px;-webkit-text-stroke:0.3px #0b0b0b;transform:scaleX(0.9798)">Independent security verification</span>
<span class="t" style="left:541.8px;top:402.5px;font-size:17.7px;font-weight:700;transform:scaleX(0.8265)">GLBA</span>
<span class="t" style="left:636.8px;top:402.6px;font-size:17.2px;-webkit-text-stroke:0.3px #0b0b0b;transform:scaleX(0.9909)">Information security programs</span>
<span class="t" style="left:514.4px;top:439.1px;font-size:17.7px;font-weight:700;transform:scaleX(0.9483)">NIST 800-53</span>
<span class="t" style="left:637.8px;top:439.2px;font-size:17.2px;-webkit-text-stroke:0.3px #0b0b0b;transform:scaleX(0.9709)">Comprehensive security controls</span>
<span class="t" style="left:567.5px;top:489.7px;font-size:27px;font-weight:700;transform:scaleX(0.8902)">95%</span>
<span class="t" style="left:622.4px;top:493.5px;font-size:22.5px;-webkit-text-stroke:0.3px #0b0b0b;transform:scaleX(0.8814)">of</span>
<span class="t" style="left:646.5px;top:493.5px;font-size:22.5px;font-weight:700;transform:scaleX(0.8812)">compliance reviews</span>
<span class="t" style="left:566.8px;top:519.3px;font-size:22.5px;-webkit-text-stroke:0.3px #0b0b0b;transform:scaleX(0.9284)">automated (Greenlite example)</span>
<span class="t" style="left:565.9px;top:563.2px;font-size:22.5px;font-weight:700;transform:scaleX(0.8925)">Immutable audit trails</span>
<span class="t" style="left:781.2px;top:563.2px;font-size:22.5px;-webkit-text-stroke:0.3px #0b0b0b;transform:scaleX(0.9013)">with</span>
<span class="t" style="left:566.8px;top:588.8px;font-size:22.5px;-webkit-text-stroke:0.3px #0b0b0b;transform:scaleX(0.9529)">timestamp logging</span>
<span class="t" style="left:1038.7px;top:266.6px;font-size:20px;-webkit-text-stroke:0.3px #0b0b0b;transform:scaleX(0.8994)">AI handles</span>
<span class="t" style="left:1039.0px;top:287.5px;font-size:34.7px;font-weight:700;color:#1d3768;transform:scaleX(0.9123)">40-60%</span>
<span class="t" style="left:1038.7px;top:321.9px;font-size:20px;-webkit-text-stroke:0.3px #0b0b0b;transform:scaleX(0.9074)">of queries</span>
<span class="t" style="left:1037.8px;top:343.8px;font-size:20px;-webkit-text-stroke:0.3px #0b0b0b;transform:scaleX(0.9154)">independently</span>
<span class="t" style="left:1242.5px;top:264.3px;font-size:34.7px;font-weight:700;color:#1d3768;transform:scaleX(0.9242)">25-35%</span>
<span class="t" style="left:1242.5px;top:299.5px;font-size:20px;-webkit-text-stroke:0.3px #0b0b0b;transform:scaleX(0.9321)">reduction in</span>
<span class="t" style="left:1243.4px;top:321.3px;font-size:20px;-webkit-text-stroke:0.3px #0b0b0b;transform:scaleX(0.8745)">average</span>
<span class="t" style="left:1242.5px;top:342.3px;font-size:20px;-webkit-text-stroke:0.3px #0b0b0b;transform:scaleX(0.9284)">handling time</span>
<span class="t" style="left:1038.0px;top:388.1px;font-size:34.7px;font-weight:700;color:#1d3768;transform:scaleX(1.0012)">24/7</span>
<span class="t" style="left:1038.7px;top:422.9px;font-size:20px;-webkit-text-stroke:0.3px #0b0b0b;transform:scaleX(0.9094)">service</span>
<span class="t" style="left:1038.7px;top:443.8px;font-size:20px;-webkit-text-stroke:0.3px #0b0b0b;transform:scaleX(0.9213)">availability</span>
<span class="t" style="left:1242.5px;top:388.1px;font-size:34.7px;font-weight:700;color:#1d3768;transform:scaleX(0.9217)">50-70%</span>
<span class="t" style="left:1242.5px;top:422.9px;font-size:20px;-webkit-text-stroke:0.3px #0b0b0b;transform:scaleX(0.9321)">reduction in</span>
<span class="t" style="left:1243.4px;top:443.8px;font-size:20px;-webkit-text-stroke:0.3px #0b0b0b;transform:scaleX(0.9248)">support costs</span>
<span class="t" style="left:1040.6px;top:507.6px;font-size:22.5px;font-weight:700;transform:scaleX(0.9040)">Human-in-the-loop (HITL)</span>
<span class="t" style="left:1292.4px;top:507.6px;font-size:22.5px;-webkit-text-stroke:0.3px #0b0b0b;transform:scaleX(0.9341)">for</span>
<span class="t" style="left:1040.6px;top:532.6px;font-size:22.5px;-webkit-text-stroke:0.3px #0b0b0b;transform:scaleX(0.9454)">high-risk actions</span>
<span class="t" style="left:1040.6px;top:580.3px;font-size:22.5px;font-weight:700;transform:scaleX(0.8779)">Dynamic SLA prioritization</span>
<span class="t" style="left:979.5px;top:420.3px;font-size:15.4px;font-weight:700;transform:scaleX(1.0988)">24/7</span>
<span class="t" style="left:569.5px;top:655.8px;font-size:33px;font-weight:700;color:#ffffff;transform:scaleX(0.8701)">85%</span>
<span class="t" style="left:632.4px;top:663.3px;font-size:24px;color:#ffffff;-webkit-text-stroke:0.35px #fff;transform:scaleX(0.8891)">of consumers abandon</span>
<span class="t" style="left:569.4px;top:689.1px;font-size:24px;color:#ffffff;-webkit-text-stroke:0.35px #fff;transform:scaleX(0.8945)">companies after data mishandling</span>
<span class="t" style="left:985.5px;top:662.5px;font-size:24.5px;font-weight:700;color:#ffffff;transform:scaleX(0.8691)">Customers are</span>
<span class="t" style="left:1141.8px;top:655.9px;font-size:32.3px;font-weight:700;color:#ffffff;transform:scaleX(0.8676)">4x</span>
<span class="t" style="left:1179.8px;top:662.5px;font-size:24.5px;font-weight:700;color:#ffffff;transform:scaleX(0.8676)">more likely to</span>
<span class="t" style="left:986.1px;top:689.9px;font-size:24.5px;font-weight:700;color:#ffffff;transform:scaleX(0.8683)">leave due to slow response times</span>
</body></html>
